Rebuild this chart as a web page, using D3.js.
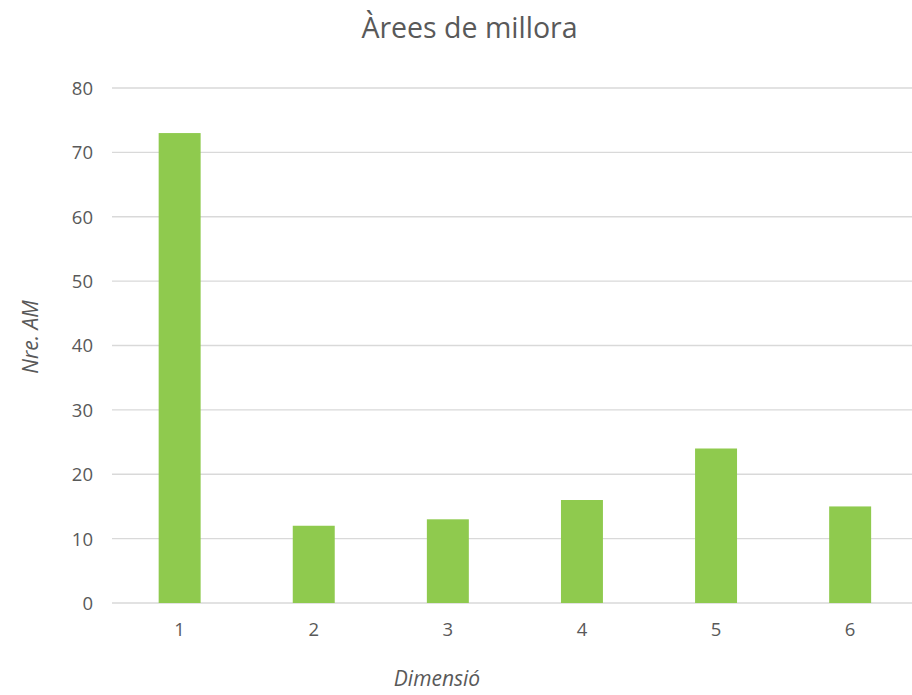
<!DOCTYPE html>
<html><head><meta charset="utf-8">
<script src="https://cdn.jsdelivr.net/npm/d3@7/dist/d3.min.js"></script>
<style>body{margin:0;background:#fff}svg{display:block;font-family:"Open Sans",sans-serif}</style>
</head><body><svg id="c" width="912" height="695"></svg>
<script>
const categories = ["1","2","3","4","5","6"];
const values = [73,12,13,16,24,15];
const yTicks = [0,10,20,30,40,50,60,70,80];
const title = "Àrees de millora";
const xTitle = "Dimensió";
const yTitle = "Nre. AM";

const svg = d3.select("#c");
const L = 112, R = 912, T = 88, B = 603;
const x = d3.scaleBand().domain(categories).range([112.6, 917.2]).paddingInner(0.687).paddingOuter(0.3435);
const y = d3.scaleLinear().domain([0, 80]).range([B, T]);
const txt = "#595959";

svg.append("g").selectAll("line").data(yTicks).join("line")
  .attr("x1", L).attr("x2", R).attr("y1", d => y(d)).attr("y2", d => y(d))
  .attr("stroke", "#d9d9d9").attr("stroke-width", 1.3);

svg.append("g").selectAll("rect").data(values).join("rect")
  .attr("x", (d,i) => x(categories[i])).attr("width", x.bandwidth())
  .attr("y", d => y(d)).attr("height", d => B - y(d))
  .attr("fill", "#8fca4e");

const yAxis = d3.axisLeft(y).tickValues(yTicks).tickSize(0).tickPadding(0);
const gy = svg.append("g").attr("transform", `translate(${L-19},0)`).call(yAxis);
gy.select(".domain").remove();
gy.selectAll("text").attr("font-size", 18.5).attr("fill", txt).attr("font-family", "Open Sans, sans-serif").attr("dy", "0.35em");

const xAxis = d3.axisBottom(x).tickSize(0).tickPadding(0);
const gx = svg.append("g").attr("transform", `translate(0,${B+20})`).call(xAxis);
gx.select(".domain").remove();
gx.selectAll("text").attr("font-size", 18.5).attr("fill", txt).attr("font-family", "Open Sans, sans-serif");

svg.append("text").attr("x", 469.5).attr("y", 38).attr("text-anchor", "middle")
  .attr("font-size", 28.5).attr("fill", txt).text(title);
svg.append("text").attr("x", 437).attr("y", 686).attr("text-anchor", "middle")
  .attr("font-size", 21).attr("font-style", "italic").attr("fill", txt).text(xTitle);
svg.append("text").attr("transform", "translate(38,337) rotate(-90)").attr("text-anchor", "middle")
  .attr("font-size", 21).attr("font-style", "italic").attr("fill", txt).text(yTitle);
</script></body></html>
